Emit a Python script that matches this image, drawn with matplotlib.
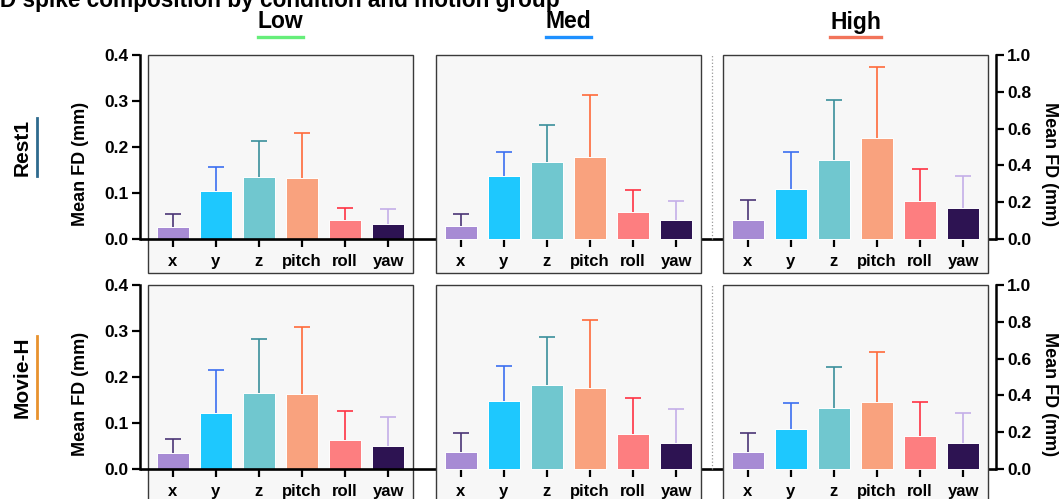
import numpy as np
import matplotlib
matplotlib.use('Agg')
import matplotlib.pyplot as plt
from matplotlib.patches import Rectangle
from matplotlib.lines import Line2D
from matplotlib.transforms import blended_transform_factory

plt.rcParams['font.family'] = ['Liberation Sans', 'DejaVu Sans']
plt.rcParams['font.weight'] = 'bold'
plt.rcParams['axes.labelweight'] = 'bold'

motion_axes = ['x', 'y', 'z', 'pitch', 'roll', 'yaw']
groups = ['Low', 'Med', 'High']
conditions = ['Rest1', 'Movie-H']

bar_colors = ['#a78bd4', '#1ec8fe', '#70c7cf', '#f9a27e', '#fd7e80', '#2d1352']
err_colors = ['#4b3576', '#3b6ff0', '#3a8f9b', '#ff6a3a', '#ff3344', '#c4aee8']
group_colors = ['#66ee7a', '#1e90ff', '#f2745a']
cond_colors = ['#2e6a8e', '#e8922e']

# mean FD (mm) and SD per motion axis
rest1_low_mean = [0.027, 0.105, 0.135, 0.133, 0.041, 0.033]
rest1_low_sd = [0.028, 0.052, 0.077, 0.098, 0.027, 0.032]
rest1_med_mean = [0.028, 0.138, 0.167, 0.178, 0.059, 0.041]
rest1_med_sd = [0.027, 0.052, 0.081, 0.136, 0.048, 0.042]
rest1_high_mean = [0.104, 0.271, 0.427, 0.547, 0.204, 0.171]
rest1_high_sd = [0.109, 0.200, 0.326, 0.390, 0.176, 0.171]

movie_low_mean = [0.035, 0.122, 0.165, 0.163, 0.064, 0.050]
movie_low_sd = [0.031, 0.094, 0.118, 0.145, 0.061, 0.064]
movie_med_mean = [0.036, 0.147, 0.182, 0.175, 0.075, 0.056]
movie_med_sd = [0.042, 0.076, 0.106, 0.148, 0.079, 0.075]
movie_high_mean = [0.090, 0.219, 0.333, 0.363, 0.181, 0.139]
movie_high_sd = [0.105, 0.137, 0.219, 0.275, 0.184, 0.167]

means = [[rest1_low_mean, rest1_med_mean, rest1_high_mean],
         [movie_low_mean, movie_med_mean, movie_high_mean]]
sds = [[rest1_low_sd, rest1_med_sd, rest1_high_sd],
       [movie_low_sd, movie_med_sd, movie_high_sd]]

y_top = [0.4, 0.4, 1.0]
low_ticks = [0.0, 0.1, 0.2, 0.3, 0.4]
high_ticks = [0.0, 0.2, 0.4, 0.6, 0.8, 1.0]

W, H = 1064, 499
fig = plt.figure(figsize=(W / 100, H / 100), dpi=100)


def px_rect(l, t, r, b):
    return [l / W, 1 - b / H, (r - l) / W, (b - t) / H]


col_px = [(148, 413), (436, 701), (723, 988)]
row_px = [(55, 273), (285, 503)]
below = 0.1848   # part of the panel under zero, as fraction of the top value
spine_off = 8    # px between panel box and y axis spine

all_axes = []
for r in range(2):
    row = []
    for c in range(3):
        ax = fig.add_axes(px_rect(col_px[c][0], row_px[r][0], col_px[c][1], row_px[r][1]))
        ax.set_xlim(-0.58, 5.58)
        ax.set_ylim(-below * y_top[c], y_top[c])
        ax.set_facecolor('#f7f7f7')
        for s in ax.spines.values():
            s.set_visible(False)
        ax.add_patch(Rectangle((0, 0), 1, 1, transform=ax.transAxes, fill=False,
                               edgecolor='#3a3a3a', lw=1.0, clip_on=False, zorder=1))

        xs = np.arange(len(motion_axes))
        ax.bar(xs, means[r][c], width=0.75, color=bar_colors, edgecolor='white',
               linewidth=0.7, zorder=3)
        for i in xs:
            eb = ax.errorbar(i, means[r][c][i], yerr=[[0], [sds[r][c][i]]], fmt='none',
                             ecolor=err_colors[i], elinewidth=1.2, capsize=5.5,
                             capthick=1.2, zorder=4)
            eb[1][0].set_visible(False)   # only the upper cap

        ax.spines['bottom'].set_position(('data', 0))
        ax.set_xticks(xs, motion_axes, fontsize=12, fontweight='bold')
        ax.tick_params(axis='x', length=5.5, width=1.6, pad=5, direction='out')

        if c == 0:
            sp = ax.spines['left']
            sp.set_visible(True)
            sp.set_position(('outward', spine_off * 0.72))
            sp.set_bounds(0, y_top[c])
            sp.set_linewidth(1.8)
            ax.set_yticks(low_ticks, [f'{v:.1f}' for v in low_ticks])
            ax.tick_params(axis='y', length=6, width=1.6, pad=2, labelsize=12.5)
            ax.set_ylabel('Mean FD (mm)', fontsize=13, labelpad=11)
        elif c == 2:
            sp = ax.spines['right']
            sp.set_visible(True)
            sp.set_position(('outward', spine_off * 0.72))
            sp.set_bounds(0, y_top[c])
            sp.set_linewidth(1.8)
            ax.yaxis.tick_right()
            ax.yaxis.set_label_position('right')
            ax.set_yticks(high_ticks, [f'{v:.1f}' for v in high_ticks])
            ax.tick_params(axis='y', length=6, width=1.6, pad=2, labelsize=12.5)
            ax.set_ylabel('Mean FD (mm)', fontsize=13, rotation=270, labelpad=19)
        else:
            ax.set_yticks([])
        row.append(ax)
    all_axes.append(row)

    # zero line across the whole row
    ax0 = row[0]
    w0 = col_px[0][1] - col_px[0][0]
    tr = blended_transform_factory(ax0.transAxes, ax0.transData)
    x_start = -spine_off / w0
    x_end = (col_px[2][1] + spine_off - col_px[0][0]) / w0
    ax0.plot([x_start, x_end], [0, 0], transform=tr, color='black', lw=1.9,
             clip_on=False, zorder=6, solid_capstyle='butt')

    # dotted separator between Med and High
    ax1 = row[1]
    w1 = col_px[1][1] - col_px[1][0]
    xd = ((col_px[1][1] + col_px[2][0]) / 2 - col_px[1][0]) / w1
    tr1 = blended_transform_factory(ax1.transAxes, ax1.transData)
    ax1.plot([xd, xd], [0, y_top[1]], transform=tr1, color='#999999', lw=0.9,
             ls=':', clip_on=False, zorder=2)

fig.text(-14 / W, 1 - 7 / H, 'FD spike composition by condition and motion group',
         ha='left', va='baseline', fontsize=16.3, fontweight='bold')

fig.canvas.draw()
renderer = fig.canvas.get_renderer()

# column headers with coloured underline
for c, name in enumerate(groups):
    cx = (col_px[c][0] + col_px[c][1]) / 2 / W
    t = fig.text(cx, 1 - 22 / H, name, ha='center', va='center', fontsize=16.5,
                 fontweight='bold')
    bb = t.get_window_extent(renderer)
    fig.add_artist(Line2D([bb.x0 / W, bb.x1 / W], [1 - 37 / H, 1 - 37 / H],
                          transform=fig.transFigure, color=group_colors[c], lw=2.4))

# row labels with coloured underline
for r, name in enumerate(conditions):
    ax = all_axes[r][0]
    y0 = ax.transData.transform((0, 0))[1]
    y1 = ax.transData.transform((0, y_top[0]))[1]
    yc = (y0 + y1) / 2 / H
    t = fig.text(22 / W, yc, name, rotation=90, ha='center', va='center',
                 fontsize=15, fontweight='bold')
    bb = t.get_window_extent(renderer)
    fig.add_artist(Line2D([37 / W, 37 / W], [bb.y0 / H, bb.y1 / H],
                          transform=fig.transFigure, color=cond_colors[r], lw=2.0))

fig.savefig('out.png', dpi=100)
